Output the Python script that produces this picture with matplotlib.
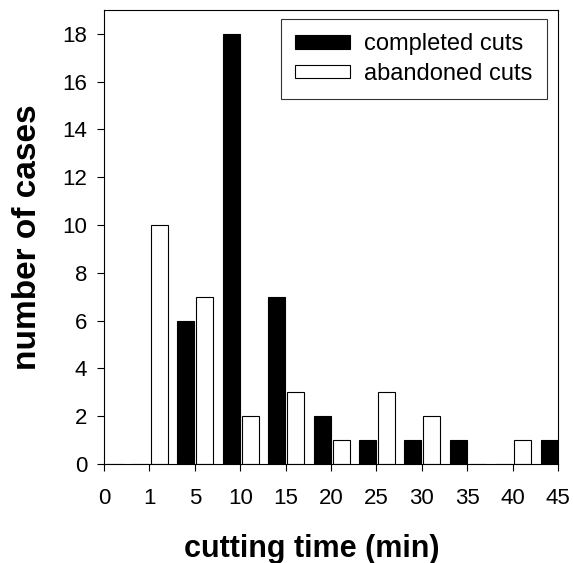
import matplotlib
matplotlib.use("Agg")
import matplotlib.pyplot as plt
import numpy as np

tick_labels = ["0", "1", "5", "10", "15", "20", "25", "30", "35", "40", "45"]
completed = [0, 0, 6, 18, 7, 2, 1, 1, 1, 0, 1]
abandoned = [0, 10, 7, 2, 3, 1, 3, 2, 0, 1, 0]

plt.rcParams['font.family'] = ['Liberation Sans', 'DejaVu Sans']

fig = plt.figure(figsize=(5.73, 5.63), dpi=100)
ax = fig.add_axes([104/573, 1-464/563, 454/573, 454/563])

x = np.arange(len(tick_labels))
w = 0.375
ax.bar(x - 0.385, completed, width=w, align='edge', color='black',
       edgecolor='black', linewidth=0.8, label='completed cuts')
ax.bar(x + 0.035, abandoned, width=w, align='edge', color='white',
       edgecolor='black', linewidth=0.8, label='abandoned cuts')

ax.set_xlim(0, 10)
ax.set_ylim(0, 19)
ax.set_xticks(x)
ax.set_xticklabels(tick_labels)
ax.set_yticks(np.arange(0, 19, 2))
ax.tick_params(direction='out', length=5, width=0.8, labelsize=16)
ax.tick_params(axis='x', pad=12)
ax.tick_params(axis='y', pad=7)
for s in ax.spines.values():
    s.set_linewidth(0.8)

ax.set_xlabel('cutting time (min)', fontsize=22, fontweight='bold', labelpad=15)
ax.xaxis.set_label_coords(0.457, -0.155)
ax.set_ylabel('number of cases', fontsize=24, fontweight='bold', labelpad=14)

leg = ax.legend(loc='upper right', bbox_to_anchor=(0.9758, 0.980), borderaxespad=0,
                fontsize=17, frameon=True, fancybox=False, edgecolor='black',
                handlelength=2.33, handleheight=0.5, borderpad=0.6,
                labelspacing=0.32, handletextpad=0.6)
leg.get_frame().set_linewidth(0.8)

fig.savefig('out.png', dpi=100)
